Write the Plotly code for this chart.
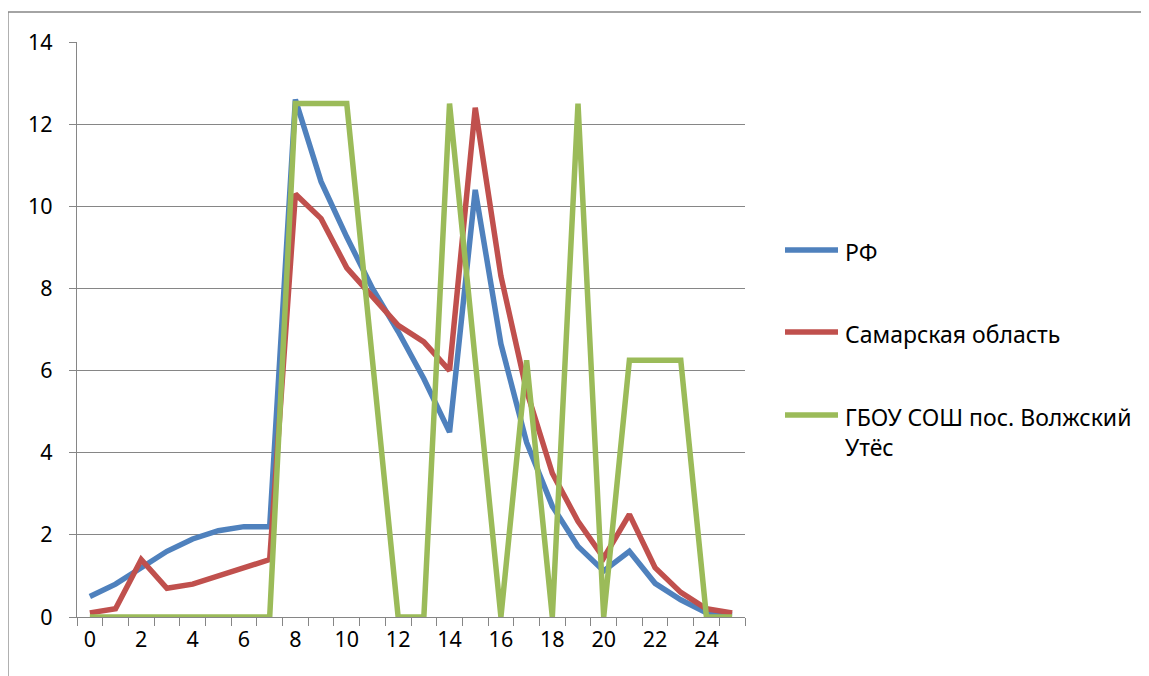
import plotly.graph_objects as go

ages = list(range(26))
rf = [0.5, 0.8, 1.2, 1.6, 1.9, 2.1, 2.2, 2.2, 12.6, 10.6, 9.25, 8.0, 6.95, 5.8, 4.5,
      10.4, 6.65, 4.25, 2.7, 1.72, 1.12, 1.6, 0.82, 0.42, 0.1, 0.05]
samara = [0.1, 0.2, 1.4, 0.7, 0.8, 1.0, 1.2, 1.4, 10.3, 9.7, 8.5, 7.8, 7.1, 6.7, 6.0,
          12.4, 8.3, 5.5, 3.5, 2.33, 1.44, 2.5, 1.2, 0.6, 0.2, 0.1]
school = [0, 0, 0, 0, 0, 0, 0, 0, 12.5, 12.5, 12.5, 6.25, 0, 0, 12.5,
          6.25, 0, 6.25, 0, 12.5, 0, 6.25, 6.25, 6.25, 0, 0]

names = ["РФ", "Самарская область", "ГБОУ СОШ пос. Волжский<br>Утёс"]
colors = ["#4F81BD", "#C0504D", "#9BBB59"]
xtick_vals = list(range(0, 25, 2))
xtick_text = [str(v) for v in xtick_vals]
minor_vals = [i - 0.5 for i in range(27)]

fig = go.Figure()
for ys, nm, c in zip([rf, samara, school], names, colors):
    fig.add_trace(go.Scatter(x=ages, y=ys, mode="lines", name=nm,
                             showlegend=False,
                             line=dict(color=c, width=5.5)))

FONT = "Noto Sans, Open Sans, DejaVu Sans"
grey = "#868686"

# page body has an 8px margin; plot area targeted at x 77..745, y 42..617
fig.update_layout(
    width=1149, height=676,
    margin=dict(l=69, r=412, t=34, b=67),
    paper_bgcolor="white", plot_bgcolor="white",
    font=dict(family=FONT, size=22, color="black"),
    xaxis=dict(range=[-0.5, 25.5], tickmode="array", tickvals=xtick_vals,
               ticktext=xtick_text, ticks="", showgrid=False, zeroline=False,
               showline=True, linecolor=grey, linewidth=1.3,
               ticklabelstandoff=3,
               minor=dict(tickmode="array", tickvals=minor_vals, ticks="outside",
                          ticklen=8, tickcolor=grey, tickwidth=1.3, showgrid=False),
               tickfont=dict(family=FONT, size=21.5, color="black")),
    yaxis=dict(range=[0, 14], dtick=2, tick0=0, showgrid=True, gridcolor=grey,
               gridwidth=1.3, zeroline=False, showline=True, linecolor=grey,
               linewidth=1.3, ticks="outside", ticklen=7, tickcolor=grey,
               tickwidth=1.3, ticklabelstandoff=12,
               tickfont=dict(family=FONT, size=21.5, color="black")),
)

# manual legend (long line samples like the reference)
def px_x(p):
    return (p - 77) / 668

def px_y(p):
    return 1 - (p - 42) / 575

legend_rows = [250, 332, 415]
for nm, c, yp in zip(names, colors, legend_rows):
    fig.add_shape(type="line", xref="paper", yref="paper",
                  x0=px_x(785), x1=px_x(838), y0=px_y(yp), y1=px_y(yp),
                  line=dict(color=c, width=5.5))
    fig.add_annotation(xref="paper", yref="paper", x=px_x(843), y=px_y(yp - 16),
                       xanchor="left", yanchor="top", align="left",
                       text=nm, showarrow=False,
                       font=dict(family=FONT, size=23, color="black"))

# chart border (left and top edges visible in the reference)
fig.add_shape(type="line", xref="paper", yref="paper", x0=px_x(8), x1=px_x(8),
              y0=-0.3, y1=px_y(12), line=dict(color=grey, width=1.3))
fig.add_shape(type="line", xref="paper", yref="paper", x0=px_x(8), x1=2.0,
              y0=px_y(12), y1=px_y(12), line=dict(color=grey, width=1.3))

fig.write_html("out.html")
